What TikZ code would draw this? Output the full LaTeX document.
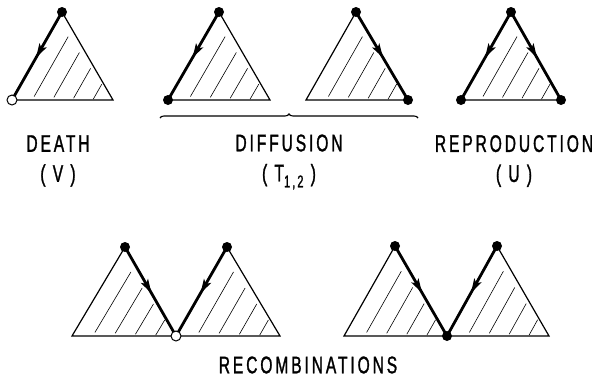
\documentclass[tikz,border=0pt]{standalone}
\usepackage{fontspec}
\setmainfont{Liberation Sans}[FakeStretch=0.65,LetterSpace=12,FakeBold=1.2]
\usetikzlibrary{calc,arrows.meta,decorations.markings,decorations.pathreplacing}

% light hatching parallel to the left side of a triangle (prefix #1)
\newcommand{\hatchtri}[1]{%
  \foreach \t [evaluate=\t as \u using 1-\t] in {0.2,0.4,0.6,0.8} {
    \coordinate (hp) at ($(#1l)!\t!(#1r)$);
    \coordinate (hq) at ($(#1r)!\u!(#1a)$);
    \draw[hatching] ($(hp)!0.05!(hq)$) -- ($(hp)!0.9!(hq)$);
  }%
}

\begin{document}
\begin{tikzpicture}[
    x=1pt, y=-1pt,
    side/.style={
        line width=1.2pt,
        line join=miter
    },
    hatching/.style={
        line width=0.6pt
    },
    flow/.style={
        line width=2.8pt,
        line cap=round,
        postaction={decorate},
        decoration={markings,
            mark=at position 0.52 with {\arrow{Stealth[length=14pt,width=8pt,inset=3pt]}}}
    },
    dot/.style={
        circle,
        fill=black,
        inner sep=0pt,
        minimum size=10pt
    },
    hollow/.style={
        circle,
        draw,
        fill=white,
        line width=1pt,
        inner sep=0pt,
        minimum size=10pt
    },
    lbl/.style={
        font=\fontsize{24}{26}\selectfont,
        align=center
    }
]
\useasboundingbox (0,0) rectangle (595,391);

% Triangles, top row
\coordinate (dl) at (12,100);  \coordinate (da) at (62,12);  \coordinate (dr) at (113,100);
\coordinate (fl) at (168,100); \coordinate (fa) at (219,12); \coordinate (fr) at (270,100);
\coordinate (gl) at (306,100); \coordinate (ga) at (356,12); \coordinate (gr) at (408,100);
\coordinate (rl) at (461,100); \coordinate (ra) at (511,12); \coordinate (rr) at (561,100);

% Triangles, bottom row
\coordinate (al) at (72,336);  \coordinate (aa) at (125,247); \coordinate (ar) at (176,336);
\coordinate (bl) at (176,336); \coordinate (ba) at (227,247); \coordinate (br) at (280,336);
\coordinate (cl) at (344,336); \coordinate (ca) at (395,246); \coordinate (cr) at (447,336);
\coordinate (el) at (447,336); \coordinate (ea) at (497,246); \coordinate (er) at (549,336);

\foreach \p in {d,f,g,r,a,b,c,e} {
    \draw[side] (\p l) -- (\p a) -- (\p r) -- cycle;
    \hatchtri{\p}
}

% Moves
\draw[flow] (da) -- (dl);
\draw[flow] (fa) -- (fl);
\draw[flow] (ga) -- (gr);
\draw[flow] (ra) -- (rl);
\draw[flow] (ra) -- (rr);
\draw[flow] (aa) -- (ar);
\draw[flow] (ba) -- (bl);
\draw[flow] (ca) -- (cr);
\draw[flow] (ea) -- (el);

% Sites
\node[dot] (d1) at (da) {};
\node[hollow] (d2) at (dl) {};
\node[dot] (f1) at (fa) {};
\node[dot] (f2) at (fl) {};
\node[dot] (g1) at (ga) {};
\node[dot] (g2) at (gr) {};
\node[dot] (r1) at (ra) {};
\node[dot] (r2) at (rl) {};
\node[dot] (r3) at (rr) {};
\node[dot] (a1) at (aa) {};
\node[dot] (b1) at (ba) {};
\node[hollow] (ab) at (ar) {};
\node[dot] (c1) at (ca) {};
\node[dot] (e1) at (ea) {};
\node[dot] (ce) at (cr) {};

% Brace under the diffusion pair
\coordinate (bs) at (160,118);
\coordinate (be) at (418,118);
\draw[line width=1.1pt, decorate, decoration={brace, amplitude=4pt}] (bs) -- (be);

% Labels
\node[lbl] (death) at (58,161) {DEATH\\[4pt]( V )};
\node[lbl] (diff) at (289,162) {DIFFUSION\\[4pt]( T\raisebox{-6pt}{\fontsize{17}{17}\selectfont 1,2} )};
\node[lbl] (repr) at (514,161) {REPRODUCTION\\[4pt]( U )};
\node[lbl] (recomb) at (308,365) {RECOMBINATIONS};

\end{tikzpicture}
\end{document}
